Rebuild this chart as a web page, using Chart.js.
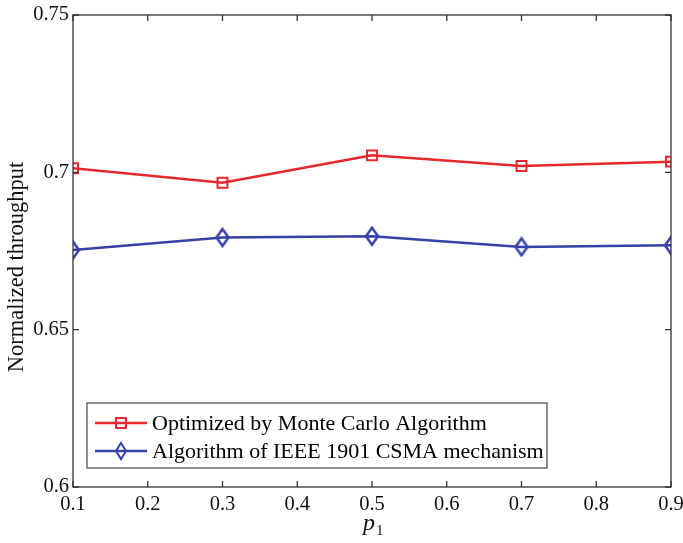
<!DOCTYPE html>
<html>
<head>
<meta charset="utf-8">
<script src="https://cdn.jsdelivr.net/npm/chart.js@4.4.1/dist/chart.umd.min.js"></script>
<style>
  html, body { margin: 0; padding: 0; background: #fff; }
  #wrap { width: 683px; height: 543px; position: relative; }
</style>
</head>
<body>
<div id="wrap"><canvas id="chart"></canvas></div>
<script>
// valores
const pValues = [0.1, 0.3, 0.5, 0.7, 0.9];
const monteCarlo = [0.7013, 0.6967, 0.7054, 0.7020, 0.7034];
const ieeeCsma = [0.6753, 0.6793, 0.6797, 0.6763, 0.6768];
const seriesNames = ['Optimized by Monte Carlo Algorithm', 'Algorithm of IEEE 1901 CSMA mechanism'];
const xTicks = [0.1, 0.2, 0.3, 0.4, 0.5, 0.6, 0.7, 0.8, 0.9];
const yTicks = [0.6, 0.65, 0.7, 0.75];
const yTitle = 'Normalized throughput';

const RED = '#e4282b';
const BLUE = '#3540a8';
const SERIF = '"Liberation Serif", "Times New Roman", serif';

function fmt(v) {
    return Number(v.toFixed(2)).toString();
}

// rombo alto, como el marcador de MATLAB
function diamondMarker(w, h, color, lw) {
    const c = document.createElement('canvas');
    c.width = w + 4; c.height = h + 4;
    const g = c.getContext('2d');
    g.strokeStyle = color;
    g.lineWidth = lw;
    g.beginPath();
    g.moveTo(c.width / 2, 2);
    g.lineTo(c.width - 2, c.height / 2);
    g.lineTo(c.width / 2, c.height - 2);
    g.lineTo(2, c.height / 2);
    g.closePath();
    g.stroke();
    return c;
}

// Marco, marcas hacia dentro, títulos de ejes y leyenda
const framePlugin = {
    id: 'frame',
    afterDraw(chart) {
        const ctx = chart.ctx;
        const a = chart.chartArea;
        const xs = chart.scales.x, ys = chart.scales.y;
        ctx.save();
        ctx.strokeStyle = '#333';
        ctx.lineWidth = 1.3;
        ctx.strokeRect(a.left, a.top, a.right - a.left, a.bottom - a.top);
        ctx.beginPath();
        xTicks.forEach(t => {
            const px = xs.getPixelForValue(t);
            ctx.moveTo(px, a.bottom); ctx.lineTo(px, a.bottom - 6);
            ctx.moveTo(px, a.top); ctx.lineTo(px, a.top + 6);
        });
        yTicks.forEach(t => {
            const py = ys.getPixelForValue(t);
            ctx.moveTo(a.left, py); ctx.lineTo(a.left + 6, py);
            ctx.moveTo(a.right, py); ctx.lineTo(a.right - 6, py);
        });
        ctx.stroke();

        // título del eje y
        ctx.save();
        ctx.translate(17, 267);
        ctx.rotate(-Math.PI / 2);
        ctx.fillStyle = '#111';
        ctx.font = '22.5px ' + SERIF;
        ctx.textAlign = 'center';
        ctx.textBaseline = 'middle';
        ctx.fillText(yTitle, 0, 0);
        ctx.restore();

        // título del eje x: p cursiva con subíndice 1
        ctx.fillStyle = '#111';
        ctx.textBaseline = 'alphabetic';
        ctx.textAlign = 'left';
        const cx = (a.left + a.right) / 2;
        ctx.font = 'italic 24px ' + SERIF;
        const pw = ctx.measureText('p').width;
        ctx.fillText('p', cx - 9, 530);
        ctx.font = '15px ' + SERIF;
        ctx.fillText('1', cx - 9 + pw + 1, 535);

        // leyenda
        const bx = 87, by = 403, bw = 460, bh = 65;
        ctx.fillStyle = '#fff';
        ctx.fillRect(bx, by, bw, bh);
        ctx.strokeStyle = '#444';
        ctx.lineWidth = 1.2;
        ctx.strokeRect(bx, by, bw, bh);
        const rows = [by + 20, by + 48];
        chart.data.datasets.forEach((ds, i) => {
            const y = rows[i];
            ctx.strokeStyle = ds.borderColor;
            ctx.lineWidth = ds.borderWidth;
            ctx.beginPath();
            ctx.moveTo(95, y); ctx.lineTo(147, y);
            ctx.stroke();
            ctx.lineWidth = 2;
            ctx.beginPath();
            if (ds.pointStyle === 'rect') {
                ctx.rect(116, y - 5, 10, 10);
            } else {
                ctx.moveTo(121, y - 8); ctx.lineTo(126, y); ctx.lineTo(121, y + 8); ctx.lineTo(116, y); ctx.closePath();
            }
            ctx.stroke();
            ctx.fillStyle = '#000';
            ctx.font = '22px ' + SERIF;
            ctx.textBaseline = 'middle';
            ctx.textAlign = 'left';
            ctx.fillText(ds.label, 152, y + 1);
        });
        ctx.restore();
    }
};

new Chart(document.getElementById('chart').getContext('2d'), {
    type: 'line',
    data: {
        datasets: [
            {
                label: seriesNames[0],
                data: pValues.map((p, i) => ({ x: p, y: monteCarlo[i] })),
                borderColor: RED,
                borderWidth: 2.5,
                pointStyle: 'rect',
                pointRadius: 7,
                pointBorderWidth: 2,
                pointBorderColor: RED,
                pointBackgroundColor: 'transparent',
                tension: 0
            },
            {
                label: seriesNames[1],
                data: pValues.map((p, i) => ({ x: p, y: ieeeCsma[i] })),
                borderColor: BLUE,
                borderWidth: 2.5,
                pointStyle: diamondMarker(12, 17, BLUE, 2.5),
                pointRadius: 8,
                tension: 0
            }
        ]
    },
    options: {
        responsive: true,
        maintainAspectRatio: false,
        animation: false,
        layout: { padding: { top: 15, right: 12, left: 0, bottom: 0 } },
        plugins: {
            legend: { display: false },
            tooltip: { enabled: false }
        },
        scales: {
            x: {
                type: 'linear',
                min: 0.1,
                max: 0.9,
                afterBuildTicks: s => { s.ticks = xTicks.map(v => ({ value: v })); },
                afterFit: s => { s.height = 56; s.paddingRight = 0; s.paddingLeft = 0; },
                grid: { display: false, drawTicks: false },
                border: { display: false },
                ticks: {
                    color: '#111',
                    font: { family: SERIF, size: 20.5 },
                    padding: 5,
                    maxRotation: 0,
                    callback: v => fmt(v)
                },
                title: { display: false }
            },
            y: {
                min: 0.6,
                max: 0.75,
                afterBuildTicks: s => { s.ticks = yTicks.map(v => ({ value: v })); },
                afterFit: s => { s.width = 73; s.paddingTop = 0; s.paddingBottom = 0; },
                grid: { display: false, drawTicks: false },
                border: { display: false },
                ticks: {
                    color: '#111',
                    font: { family: SERIF, size: 20.5 },
                    padding: 4,
                    callback: v => fmt(v)
                },
                title: { display: false }
            }
        }
    },
    plugins: [framePlugin]
});
</script>
</body>
</html>
